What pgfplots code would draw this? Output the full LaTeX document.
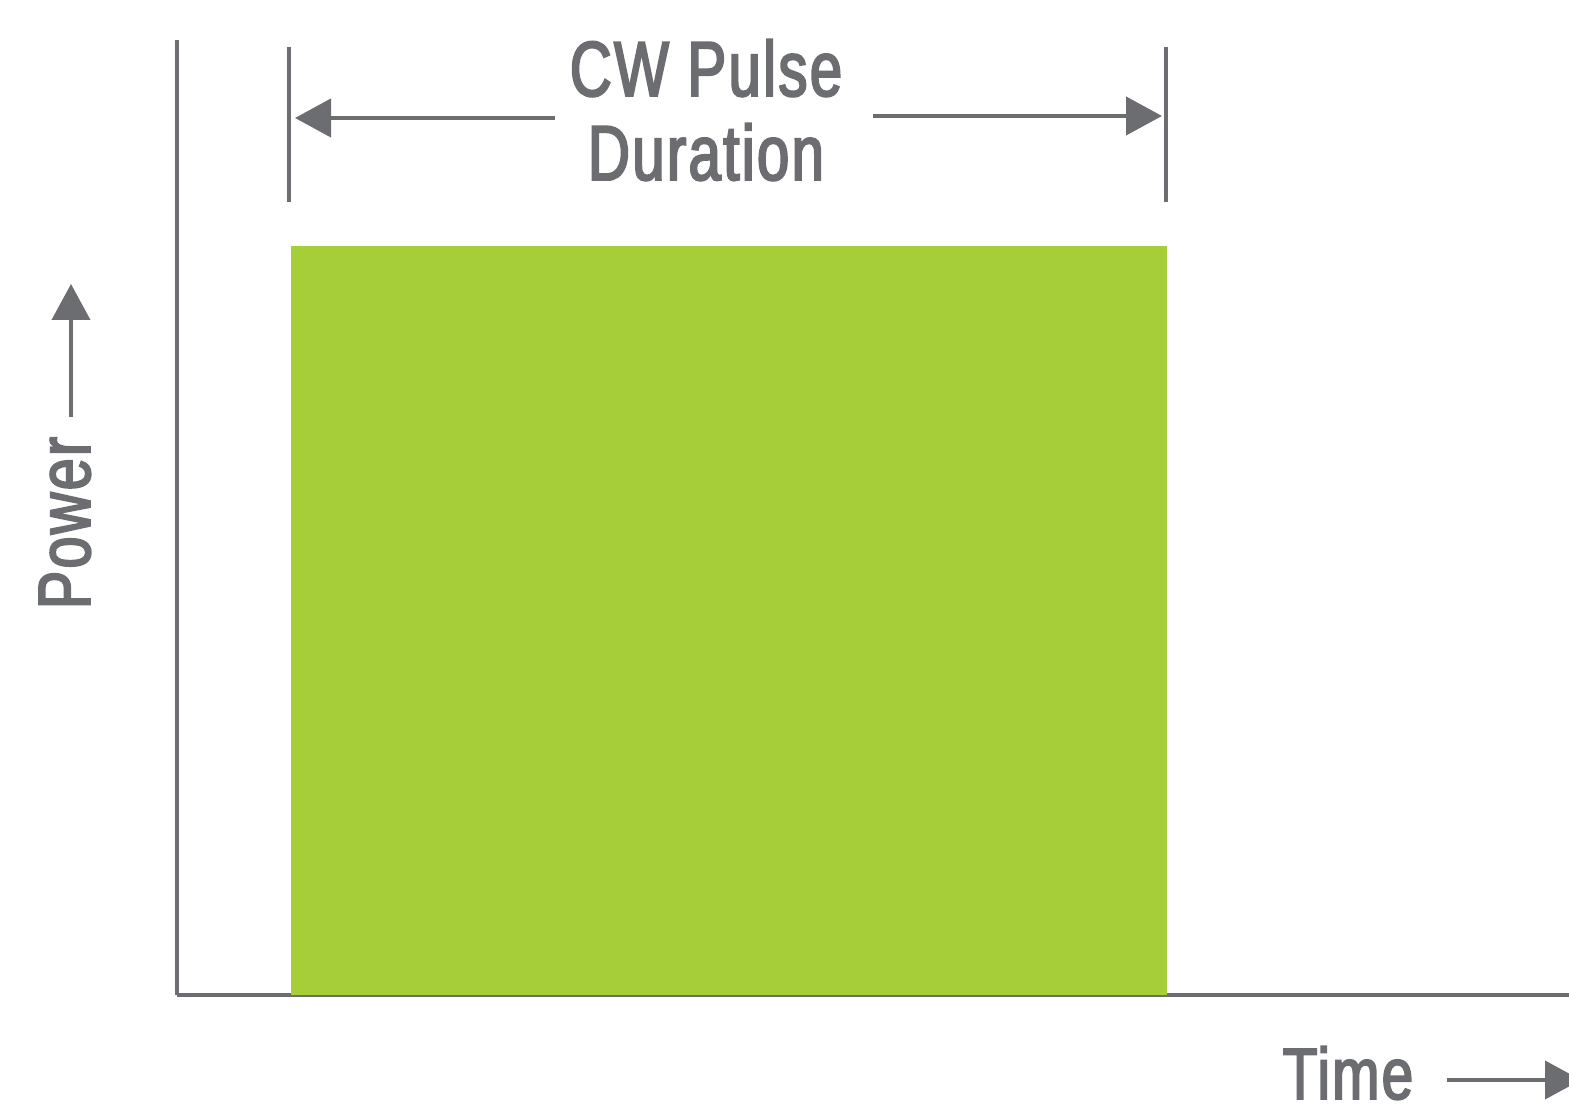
\documentclass[border=0pt]{standalone}
\usepackage{pgfplots}
\pgfplotsset{compat=1.18}
\usepackage{fontspec}
\setmainfont{Liberation Sans}
\newfontfamily\condfont[FakeStretch=0.78, FakeBold=2.6, LetterSpace=3]{Liberation Sans}
\newfontfamily\titlefont[FakeStretch=0.745, FakeBold=2.6, LetterSpace=3]{Liberation Sans}
\usetikzlibrary{arrows.meta}
\definecolor{pulsegreen}{RGB}{166,206,57}
\definecolor{axgray}{RGB}{108,109,112}
\begin{document}
\begin{tikzpicture}
  % data units are reference pixels: x = pixel x, y = 995 - pixel y
  \begin{axis}[
    width=417.6pt, height=286.5pt,
    scale only axis,
    xmin=177, xmax=1569,
    ymin=0, ymax=955,
    axis x line=bottom,
    axis y line=left,
    axis line style={-, line width=1.3pt, axgray},
    xtick=\empty, ytick=\empty,
    clip=false,
    ]

    % the pulse
    \addplot[fill=pulsegreen, draw=none] coordinates {
      (291,0) (291,749) (1167,749) (1167,0)
    } -- cycle;

    % duration markers
    \draw[axgray, line width=1.2pt] (axis cs:289,948) -- (axis cs:289,793);
    \draw[axgray, line width=1.2pt] (axis cs:1166,948) -- (axis cs:1166,793);
    \draw[axgray, line width=1.3pt, -{Triangle[length=10.8pt, width=11.4pt]}]
      (axis cs:555,877) -- (axis cs:295,877);
    \draw[axgray, line width=1.3pt, -{Triangle[length=10.8pt, width=11.4pt]}]
      (axis cs:873,879) -- (axis cs:1162,879);

    \node[anchor=base, text=axgray, inner sep=0pt]
      at (axis cs:706,899) {\titlefont\fontsize{23.4pt}{28pt}\selectfont CW Pulse};
    \node[anchor=base, text=axgray, inner sep=0pt]
      at (axis cs:706,815) {\titlefont\fontsize{23.4pt}{28pt}\selectfont Duration};

    % axis titles
    \node[anchor=base, rotate=90, text=axgray, inner sep=0pt]
      at (axis cs:90,472) {\condfont\fontsize{22.2pt}{26pt}\selectfont Power};
    \draw[axgray, line width=1.2pt, -{Triangle[length=10.8pt, width=11.4pt]}]
      (axis cs:71,578) -- (axis cs:71,711);

    \node[anchor=base, text=axgray, inner sep=0pt]
      at (axis cs:1348,-104) {\condfont\fontsize{21.8pt}{26pt}\selectfont Time};
    \draw[axgray, line width=1.2pt, -{Triangle[length=10.8pt, width=11.4pt]}]
      (axis cs:1447,-85) -- (axis cs:1581,-85);

    \coordinate (bbl) at (axis cs:0,-111);
    \coordinate (btr) at (axis cs:1569,995);
  \end{axis}
  \pgfresetboundingbox
  \path[use as bounding box] (bbl) rectangle (btr);
\end{tikzpicture}
\end{document}
